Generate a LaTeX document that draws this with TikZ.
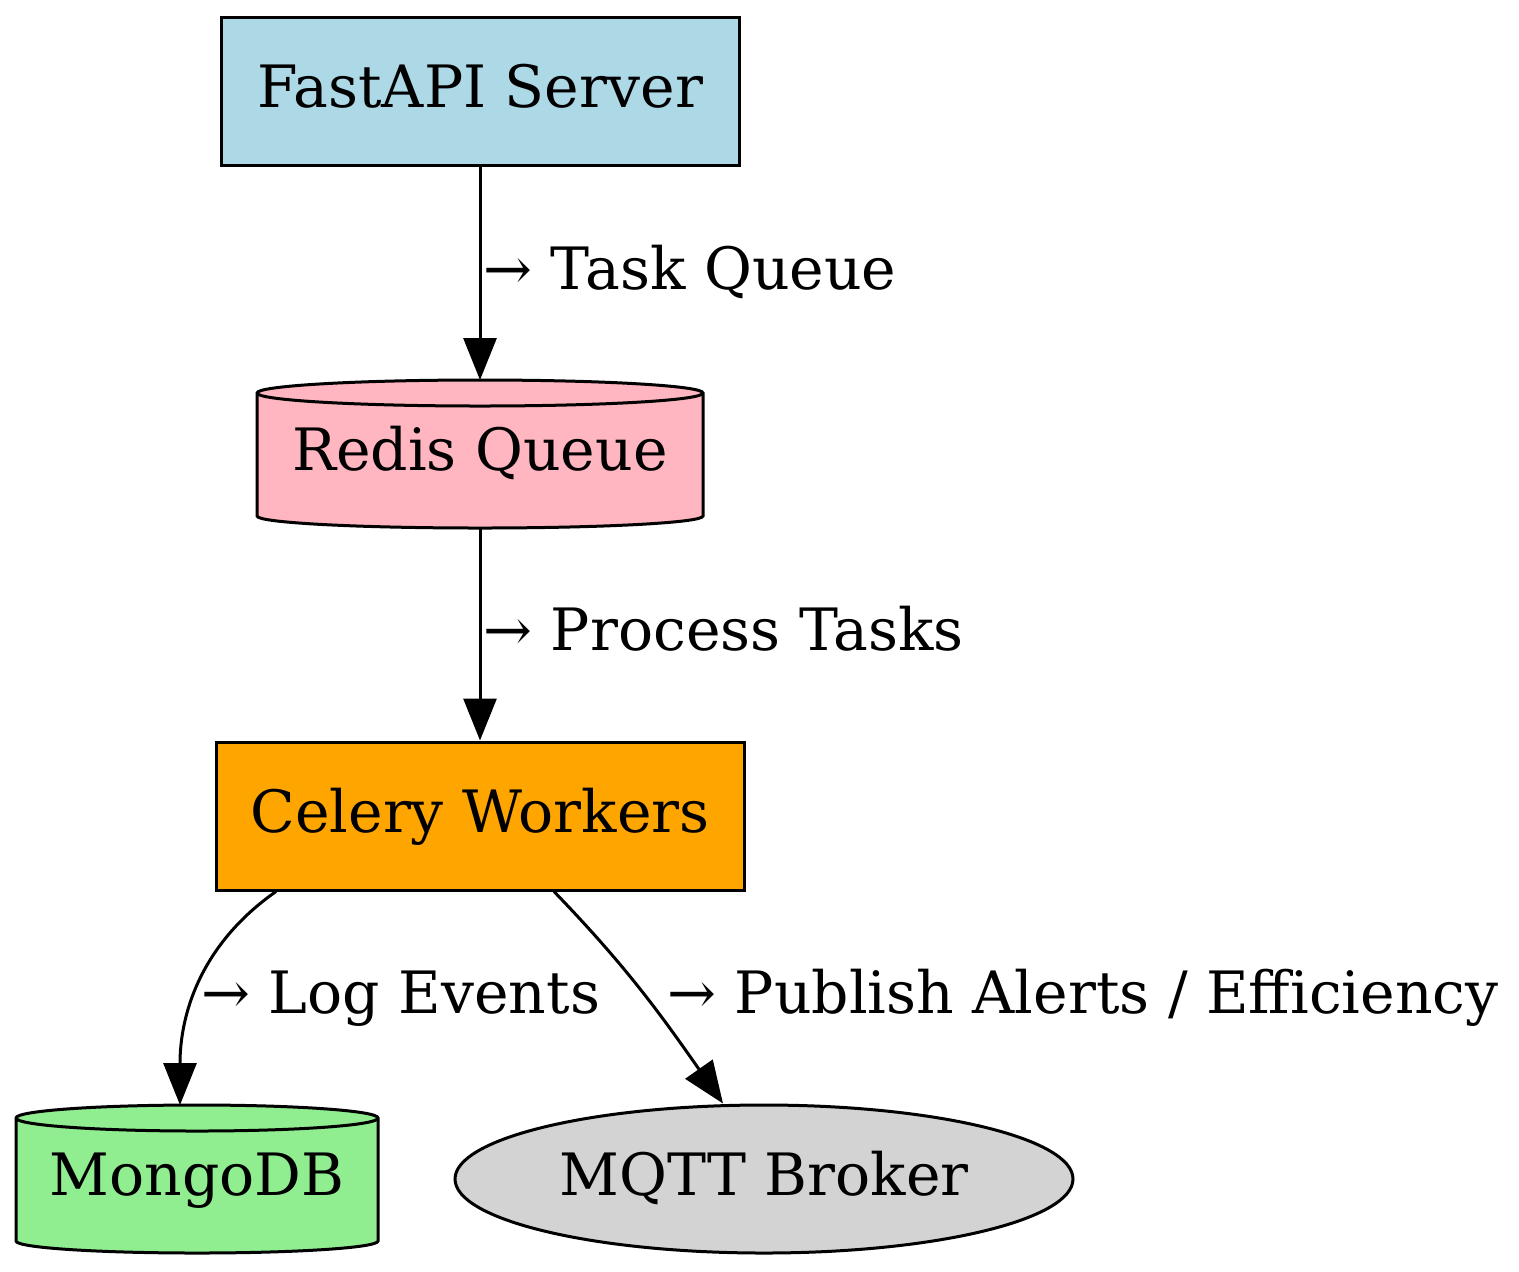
\documentclass[tikz,border=0pt]{standalone}
\usepackage{fontspec}
\setmainfont{DejaVu Serif}
\usetikzlibrary{positioning, shapes.geometric, arrows.meta, backgrounds}
\definecolor{blue1}{HTML}{ADD8E6}
\definecolor{pink1}{HTML}{FFB6C1}
\definecolor{orange1}{HTML}{FFA500}
\definecolor{green1}{HTML}{90EE90}
\definecolor{gray1}{HTML}{D3D3D3}

\tikzset{
  box/.style={draw, line width=1.5pt, rectangle, inner sep=0pt, minimum width=259pt, minimum height=74pt, text height=20.8pt, text depth=4.7pt},
  db/.style={rectangle, outer sep=0pt, inner sep=0pt, minimum height=74pt, text height=20.8pt, text depth=4.7pt},
  lbl/.style={inner sep=0pt, text height=20.8pt, text depth=4.7pt},
  link/.style={->, line width=1.5pt}
}

\begin{document}
\begin{tikzpicture}[x=0.5pt, y=-0.5pt, >={Triangle[length=21pt, width=16.5pt]}, every node/.style={font=\fontsize{29.2}{35}\selectfont}]
  \useasboundingbox (0,0) rectangle (1519,1271);

  \node[box, fill=blue1] (fastapi) at (480,91) {FastAPI Server};
  \node[db, minimum width=223pt] (redis) at (480,454) {Redis Queue};
  \node[box, fill=orange1, minimum width=264pt] (celery) at (480,816) {Celery Workers};
  \node[db, minimum width=181pt] (mongo) at (197,1179) {MongoDB};
  \node[draw, ellipse, line width=1.5pt, fill=gray1, inner sep=0pt, minimum width=309pt, minimum height=74pt, text height=20.8pt, text depth=4.7pt] (mqtt) at (764,1179) {MQTT Broker};

  % cylinders for the two stores
  \begin{scope}[on background layer]
    \draw[line width=1.5pt, fill=pink1] ([yshift=-6.5pt]redis.north west) -- ([yshift=6pt]redis.south west)
      arc[start angle=180, end angle=360, x radius=111.5pt, y radius=6pt]
      -- ([yshift=-6.5pt]redis.north east)
      arc[start angle=0, end angle=180, x radius=111.5pt, y radius=6.5pt] -- cycle;
    \draw[line width=1.5pt] ([yshift=-6.5pt]redis.north west)
      arc[start angle=180, end angle=360, x radius=111.5pt, y radius=6.5pt];

    \draw[line width=1.5pt, fill=green1] ([yshift=-6.5pt]mongo.north west) -- ([yshift=6pt]mongo.south west)
      arc[start angle=180, end angle=360, x radius=90.5pt, y radius=6pt]
      -- ([yshift=-6.5pt]mongo.north east)
      arc[start angle=0, end angle=180, x radius=90.5pt, y radius=6.5pt] -- cycle;
    \draw[line width=1.5pt] ([yshift=-6.5pt]mongo.north west)
      arc[start angle=180, end angle=360, x radius=90.5pt, y radius=6.5pt];
  \end{scope}

  \draw[link] (fastapi) -- (redis) node[lbl, midway, right, xshift=1pt] {→ Task Queue};
  \draw[link] (redis) -- (celery) node[lbl, midway, right, xshift=1pt] {→ Process Tasks};
  \draw[link] ([xshift=-102pt]celery.south) to[out=215, in=90] ([xshift=-8.5pt]mongo.north);
  \draw[link] ([xshift=37pt]celery.south) to[out=-46, in=125] ([xshift=-20.5pt]mqtt.north);

  \node[lbl, anchor=west] (loglbl) at (201,997) {→ Log Events};
  \node[lbl, anchor=west] (publbl) at (667,997) {→ Publish Alerts / Efficiency};

\end{tikzpicture}
\end{document}
